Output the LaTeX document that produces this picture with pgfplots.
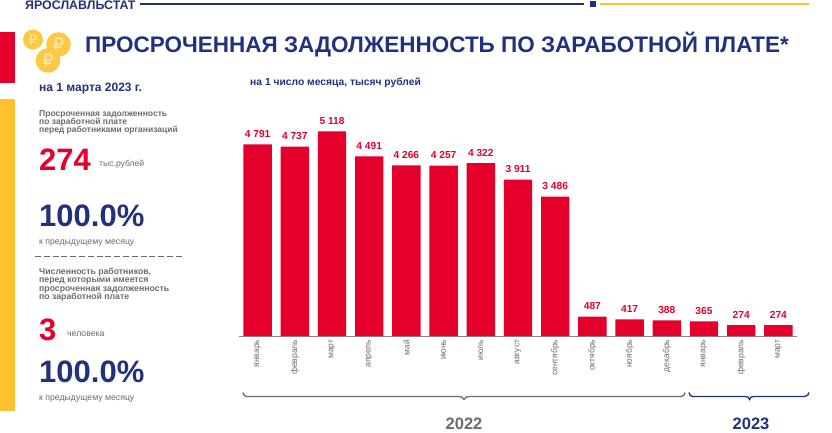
\documentclass[border=0pt]{standalone}
\usepackage{pgfplots}
\pgfplotsset{compat=1.18}
\usepackage{fontspec}
\setmainfont{Liberation Sans}
\newfontfamily\dejavu{DejaVu Sans}
\definecolor{cred}{HTML}{E4002B}
\definecolor{cblue}{HTML}{22317F}
\definecolor{cyel}{HTML}{FFC12D}
\definecolor{cgray}{HTML}{6B6B6B}
\definecolor{ccoin}{HTML}{FBC943}
\begin{document}
\begin{tikzpicture}[x=1pt,y=1pt]
\useasboundingbox (0,0) rectangle (832,432);
\fill[cred] (0,432-32) rectangle (15,432-83);
\fill[cyel] (0,432-99) rectangle (15,432-411);
% top rule
\node[anchor=west,inner sep=0,text=cblue,font=\bfseries\fontsize{12.4}{13}\selectfont] at (25,426.5) {ЯРОСЛАВЛЬСТАТ};
\draw[cblue,line width=1.2pt] (140,428) -- (584,428);
\fill[cblue] (589.5,424.5) rectangle (596,431);
\draw[cyel,line width=1.2pt] (600,428) -- (809,428);
% coins
\foreach \cx/\cy/\r/\s in {33/39.5/10/13, 58.5/44.5/12.3/17, 48/60.5/12.3/17}{
  \fill[ccoin] (\cx,432-\cy) circle (\r);
  \node[text=white!60!ccoin,inner sep=0,font=\dejavu\fontsize{\s}{18}\selectfont] at (\cx,432-\cy) {₽};
}
% title
\node[anchor=west,inner sep=0,text=cblue,font=\bfseries\fontsize{22.5}{24}\selectfont] at (85,387.7) {ПРОСРОЧЕННАЯ ЗАДОЛЖЕННОСТЬ ПО ЗАРАБОТНОЙ ПЛАТЕ*};
\node[anchor=west,inner sep=0,text=cblue,font=\bfseries\fontsize{12}{13}\selectfont] at (39,343) {на 1 марта 2023 г.};
\node[anchor=west,inner sep=0,text=cblue,font=\bfseries\fontsize{10.3}{11}\selectfont] at (250,349) {на 1 число месяца, тысяч рублей};
% left panel
\node[anchor=north west,inner sep=0,text=cgray,align=left,font=\bfseries\fontsize{8.5}{8.3}\selectfont] at (39,322) {Просроченная задолженность\\по заработной плате\\перед работниками организаций};
\node[anchor=west,inner sep=0,text=cred,font=\bfseries\fontsize{31}{32}\selectfont] at (39,272) {274};
\node[anchor=west,inner sep=0,text=cgray,font=\fontsize{8.6}{9}\selectfont] at (99,268) {тыс.рублей};
\node[anchor=west,inner sep=0,text=cblue,font=\bfseries\fontsize{31}{32}\selectfont] at (39,216) {100.0\%};
\node[anchor=west,inner sep=0,text=cgray,font=\fontsize{8.7}{9}\selectfont] at (39,189) {к предыдущему месяцу};
\draw[cgray,line width=0.6pt,dash pattern=on 6pt off 2.8pt] (35,175.5) -- (183,175.5);
\node[anchor=north west,inner sep=0,text=cgray,align=left,font=\bfseries\fontsize{8.7}{8.3}\selectfont] at (39,164) {Численность работников,\\перед которыми имеется\\просроченная задолженность\\по заработной плате};
\node[anchor=west,inner sep=0,text=cred,font=\bfseries\fontsize{31}{32}\selectfont] at (39,102) {3};
\node[anchor=west,inner sep=0,text=cgray,font=\fontsize{8.7}{9}\selectfont] at (67,98) {человека};
\node[anchor=west,inner sep=0,text=cblue,font=\bfseries\fontsize{31}{32}\selectfont] at (39,60) {100.0\%};
\node[anchor=west,inner sep=0,text=cgray,font=\fontsize{8.7}{9}\selectfont] at (39,33) {к предыдущему месяцу};
% chart
\begin{axis}[
  at={(239pt,96pt)},anchor=south west,scale only axis,
  width=558pt,height=220pt,
  xmin=-0.5,xmax=14.5,ymin=0,ymax=5500,
  axis y line=none,
  axis x line*=bottom,
  axis line style={cgray!80,line width=0.7pt,-},
  xtick=data,
  xticklabels={январь,февраль,март,апрель,май,июнь,июль,август,сентябрь,октябрь,ноябрь,декабрь,январь,февраль,март},
  x tick label style={rotate=90,anchor=east,text=cgray,font=\fontsize{8.5}{9}\selectfont,inner sep=0pt,xshift=1.5pt},
  major tick length=0pt,
  xticklabel shift=5pt,
  ybar,bar width=28.4pt,
  nodes near coords,
  nodes near coords style={text=cred,font=\bfseries\fontsize{10.2}{11}\selectfont,inner sep=0pt,yshift=6.5pt,
    /pgf/number format/.cd,fixed,precision=0,1000 sep={\ },assume math mode=true},
  clip=false,
]
\addplot[fill=cred,draw=none] coordinates {(0,4791)(1,4737)(2,5118)(3,4491)(4,4266)(5,4257)(6,4322)(7,3911)(8,3486)(9,487)(10,417)(11,388)(12,365)(13,274)(14,274)};
\end{axis}
% braces
\draw[cgray,line width=1.3pt] (243,432-392.5) .. controls (244,432-396) and (245,432-396.5) .. (249,432-396.5) -- (458,432-396.5) .. controls (461,432-396.5) and (463,432-397) .. (464,432-399.5) .. controls (465,432-397) and (467,432-396.5) .. (470,432-396.5) -- (679,432-396.5) .. controls (683,432-396.5) and (684,432-396) .. (685,432-392.5);
\draw[cblue,line width=1.3pt] (689,432-392.5) .. controls (690,432-396) and (691,432-396.5) .. (695,432-396.5) -- (745,432-396.5) .. controls (748,432-396.5) and (748.5,432-397) .. (749.5,432-399.5) .. controls (750.5,432-397) and (751,432-396.5) .. (754,432-396.5) -- (802,432-396.5) .. controls (806,432-396.5) and (808,432-396) .. (809,432-392.5);
\node[inner sep=0,text=cgray,font=\bfseries\fontsize{16.5}{17}\selectfont] at (464,8) {2022};
\node[inner sep=0,text=cblue,font=\bfseries\fontsize{16.5}{17}\selectfont] at (751,8) {2023};
\end{tikzpicture}
\end{document}
